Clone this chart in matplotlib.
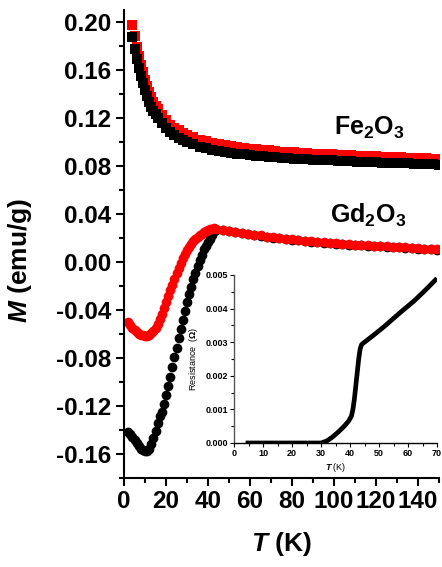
import matplotlib
matplotlib.use("Agg")
import matplotlib.pyplot as plt
from matplotlib.ticker import MultipleLocator

plt.rcParams['font.family'] = ['Liberation Sans', 'DejaVu Sans']
plt.rcParams['mathtext.fontset'] = 'custom'
plt.rcParams['mathtext.rm'] = 'Liberation Sans:bold'
plt.rcParams['mathtext.it'] = 'Liberation Sans:bold:italic'
plt.rcParams['mathtext.bf'] = 'Liberation Sans:bold'

# Fe2O3 (squares)
T_fe = [3.7, 5, 6, 7, 8, 9, 10, 11, 12, 13, 14, 15, 16, 18, 20, 22, 24, 26, 28, 30,
        33, 36, 39, 42, 45, 48, 51, 54, 57, 60, 63, 66, 69, 72, 75, 78, 81, 84, 87, 90,
        93, 96, 99, 102, 105, 108, 111, 114, 117, 120, 123, 126, 129, 132, 135, 138,
        141, 144, 147, 150]
M_fe_black = [0.1875, 0.1774, 0.169, 0.162, 0.155, 0.149, 0.143, 0.138, 0.1335, 0.1295,
              0.126, 0.123, 0.120, 0.1155, 0.1115, 0.108, 0.1055, 0.1035, 0.1015, 0.100,
              0.098, 0.0962, 0.0948, 0.0936, 0.0926, 0.0917, 0.0909, 0.0902, 0.0896, 0.0891,
              0.0886, 0.0882, 0.0877, 0.0872, 0.0868, 0.0865, 0.0862, 0.0859, 0.0856, 0.0853,
              0.0851, 0.0848, 0.0846, 0.0843, 0.0841, 0.0839, 0.0837, 0.0835, 0.0833, 0.0831,
              0.0829, 0.0827, 0.0825, 0.0823, 0.0821, 0.0819, 0.0817, 0.0815, 0.0813, 0.0811]
M_fe_red = [0.1975, 0.188, 0.179, 0.1717, 0.1643, 0.158, 0.1516, 0.1463, 0.1415, 0.1373,
            0.1336, 0.1304, 0.1272, 0.1224, 0.1182, 0.1145, 0.1118, 0.1097, 0.1076, 0.106,
            0.1039, 0.102, 0.1005, 0.0992, 0.0982, 0.0972, 0.0964, 0.0956, 0.095, 0.0944,
            0.0939, 0.0935, 0.093, 0.0924, 0.092, 0.0917, 0.0914, 0.091, 0.0907, 0.0904,
            0.0902, 0.0899, 0.0897, 0.0894, 0.0891, 0.0889, 0.0887, 0.0885, 0.0883, 0.0881,
            0.0879, 0.0877, 0.0875, 0.0872, 0.087, 0.0868, 0.0866, 0.0864, 0.0862, 0.086]

# Gd2O3 (circles)
T_gd = [2, 3, 4, 5, 6, 7, 8, 9, 10, 11, 12, 13, 14, 15, 16, 17, 18, 19, 20, 21, 22,
        23, 24, 25, 26, 27, 28, 29, 30, 31, 32, 33, 34, 35, 36, 37, 38, 39, 40, 41, 42,
        43, 44, 47, 50, 53, 56, 59, 62, 65, 68, 71, 74, 77, 80, 83, 86, 89, 92, 95, 98,
        101, 104, 107, 110, 113, 116, 119, 122, 125, 128, 131, 134, 137, 140, 143, 146, 149]
M_gd_red = [-0.050, -0.0525, -0.055, -0.057, -0.0585, -0.0597, -0.0605, -0.061, -0.0613,
            -0.0613, -0.0608, -0.0595, -0.0575, -0.0548, -0.0515, -0.0475, -0.043, -0.0385,
            -0.0337, -0.0287, -0.0237, -0.0188, -0.0142, -0.0088, -0.005, -0.001, 0.003,
            0.0065, 0.0097, 0.0125, 0.015, 0.0172, 0.0192, 0.0209, 0.0223, 0.0236, 0.0247,
            0.0257, 0.0266, 0.0273, 0.0279, 0.028, 0.0277, 0.0268, 0.026, 0.0252, 0.0244,
            0.0236, 0.0228, 0.0221, 0.0212, 0.0206, 0.020, 0.0194, 0.0188, 0.0183, 0.0178,
            0.0173, 0.0168, 0.0164, 0.016, 0.0156, 0.0152, 0.0148, 0.0145, 0.0142, 0.0139,
            0.0136, 0.0133, 0.013, 0.0127, 0.0124, 0.0121, 0.0118, 0.0115, 0.0112, 0.0109,
            0.0106]
M_gd_black = [-0.1414, -0.143, -0.1455, -0.148, -0.151, -0.1535, -0.1555, -0.157, -0.1575,
              -0.1572, -0.1555, -0.152, -0.147, -0.141, -0.134, -0.1285, -0.125, -0.118,
              -0.1105, -0.103, -0.0955, -0.0875, -0.0795, -0.0715, -0.0635, -0.0555, -0.048,
              -0.0405, -0.0335, -0.027, -0.0205, -0.0145, -0.009, -0.0035, 0.0015, 0.006,
              0.0105, 0.0135, 0.0165, 0.019, 0.0225, 0.0255, 0.027, 0.0265, 0.0257, 0.0249,
              0.0241, 0.0233, 0.0225, 0.0218, 0.0209, 0.0203, 0.0197, 0.0191, 0.0185, 0.018,
              0.0175, 0.017, 0.0165, 0.0161, 0.0157, 0.0153, 0.0149, 0.0145, 0.0142, 0.0139,
              0.0136, 0.0133, 0.013, 0.0127, 0.0124, 0.0121, 0.0118, 0.0115, 0.0112, 0.0109,
              0.0106, 0.0103]

# inset: resistance
T_res = [4, 10, 20, 30, 32, 34, 36, 38, 39.5, 40.5, 41, 41.5, 42, 42.5, 43, 43.5, 44,
         45, 48, 52, 57, 62, 66, 70]
R_res = [0, 0, 0, 0, 0.00006, 0.00018, 0.00033, 0.0005, 0.00065, 0.0008, 0.001, 0.0013,
         0.0017, 0.0021, 0.0025, 0.0028, 0.00293, 0.0030, 0.0032, 0.00348, 0.00386,
         0.00422, 0.00455, 0.0049]

fig = plt.figure(figsize=(4.42, 5.67), dpi=100)
ax = fig.add_axes([124/442, 1 - 478/567, 315/442, 468/567])

ax.plot(T_gd, M_gd_black, 'o', color='black', ms=7, mew=0)
ax.plot(T_gd, M_gd_red, 'o', color='red', ms=7, mew=0)
ax.plot(T_fe, M_fe_red, 's', color='red', ms=6.5, mew=0)
ax.plot(T_fe, M_fe_black, 's', color='black', ms=6.5, mew=0)

ax.set_xlim(0, 150)
ax.set_ylim(-0.18, 0.21)
ax.xaxis.set_major_locator(MultipleLocator(20))
ax.xaxis.set_minor_locator(MultipleLocator(10))
ax.yaxis.set_major_locator(MultipleLocator(0.04))
ax.yaxis.set_minor_locator(MultipleLocator(0.02))
ax.set_yticks([-0.16, -0.12, -0.08, -0.04, 0.0, 0.04, 0.08, 0.12, 0.16, 0.20])
ax.set_yticklabels(['-0.16', '-0.12', '-0.08', '-0.04', '0.00', '0.04', '0.08',
                    '0.12', '0.16', '0.20'])
for s in ['top', 'right']:
    ax.spines[s].set_visible(False)
for s in ['left', 'bottom']:
    ax.spines[s].set_linewidth(1.5)
ax.tick_params(which='major', direction='out', length=6, width=1.5, labelsize=17.5, pad=3)
ax.tick_params(which='minor', direction='out', length=3.5, width=1.5)
for lab in ax.get_xticklabels() + ax.get_yticklabels():
    lab.set_fontweight('bold')

ax.set_xlabel('$T$ (K)', fontsize=19, fontweight='bold', labelpad=12)
ax.set_ylabel('$M$ (emu/g)', fontsize=19, fontweight='bold')
ax.yaxis.set_label_coords(-0.285, 0.465)

ax.text(100, 0.112, 'Fe$_2$O$_3$', fontsize=18, fontweight='bold', va='center', ha='left')
ax.text(98, 0.039, 'Gd$_2$O$_3$', fontsize=18, fontweight='bold', va='center', ha='left')

# inset
ins = fig.add_axes([234/442, 1 - 443/567, 203/442, 168/567])
ins.plot(T_res, R_res, '-', color='black', lw=3.4, solid_capstyle='butt')
ins.set_xlim(0, 70)
ins.set_ylim(0, 0.005)
ins.xaxis.set_major_locator(MultipleLocator(10))
ins.xaxis.set_minor_locator(MultipleLocator(5))
ins.yaxis.set_major_locator(MultipleLocator(0.001))
ins.yaxis.set_minor_locator(MultipleLocator(0.0005))
ins.set_yticks([0, 0.001, 0.002, 0.003, 0.004, 0.005])
ins.set_yticklabels(['0.000', '0.001', '0.002', '0.003', '0.004', '0.005'])
for s in ['top', 'right']:
    ins.spines[s].set_visible(False)
ins.spines['left'].set_color('#555555')
ins.spines['left'].set_linewidth(1.0)
ins.spines['bottom'].set_linewidth(1.0)
ins.patch.set_alpha(0)
ins.tick_params(which='major', direction='out', length=3, width=0.8, labelsize=6.5, pad=1.5)
ins.tick_params(which='minor', direction='out', length=2, width=0.8)
for lab in ins.get_xticklabels() + ins.get_yticklabels():
    lab.set_fontweight('bold')
ins.set_xlabel('$T$ (K)', fontsize=6.5, labelpad=2)
ins.set_ylabel(r'Resistance  ($\Omega$)', fontsize=6.5, labelpad=4)

fig.savefig('out.png', dpi=100)
